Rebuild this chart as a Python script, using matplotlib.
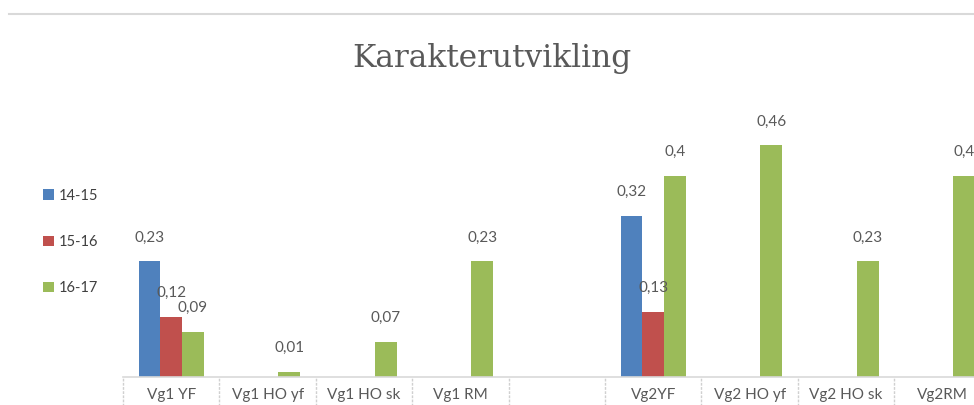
import numpy as np
import matplotlib
matplotlib.use("Agg")
import matplotlib.pyplot as plt
from matplotlib.transforms import blended_transform_factory

categories = ["Vg1 YF", "Vg1 HO yf", "Vg1 HO sk", "Vg1 RM", "",
              "Vg2YF", "Vg2 HO yf", "Vg2 HO sk", "Vg2RM"]
series = ["14-15", "15-16", "16-17"]
v_1415 = [0.23, np.nan, np.nan, np.nan, np.nan, 0.32, np.nan, np.nan, np.nan]
v_1516 = [0.12, np.nan, np.nan, np.nan, np.nan, 0.13, np.nan, np.nan, np.nan]
v_1617 = [0.09, 0.01, 0.07, 0.23, np.nan, 0.4, 0.46, 0.23, 0.4]
colors = ["#4F81BD", "#C0504D", "#9BBB59"]

plt.rcParams["font.family"] = ["Lato", "DejaVu Sans"]
txt = "#595959"

fig = plt.figure(figsize=(9.74, 4.05), dpi=100)
# axes: left edge at first category boundary, runs off the right side
ax = fig.add_axes([123 / 974, 28 / 405, (974 - 123) / 974, 277 / 405])

x = np.arange(len(categories))
w = 0.225
for i, (vals, lab, c) in enumerate(zip([v_1415, v_1516, v_1617], series, colors)):
    pos = x + (i - 1) * w
    bars = ax.bar(pos, vals, width=w, color=c, label=lab, zorder=2)
    for xx, v in zip(pos, vals):
        if np.isnan(v):
            continue
        s = ("%g" % v).replace(".", ",")
        ax.annotate(s, (xx, v), xytext=(0, 17), textcoords="offset points",
                    ha="center", va="center", fontsize=11, color=txt)

ax.set_xlim(-0.5, -0.5 + (974 - 123) / 96.4)
ax.set_ylim(0, 0.55)

for side in ["top", "right", "left"]:
    ax.spines[side].set_visible(False)
ax.spines["bottom"].set_color("#d9d9d9")
ax.spines["bottom"].set_linewidth(1.2)
ax.set_yticks([])
ax.set_xticks(x)
ax.set_xticklabels(categories, fontsize=11, color=txt)
ax.tick_params(axis="x", length=0, pad=8)

# category separators hanging below the axis
trans = blended_transform_factory(ax.transData, ax.transAxes)
ax.vlines(np.arange(len(categories) + 1) - 0.5, -0.12, 0, transform=trans,
          colors="#d0d0d0", linewidth=1, linestyles=(0, (2, 1)), clip_on=False)

# top rule
fig.add_artist(plt.Line2D([9 / 974, 1], [1 - 14 / 405] * 2, color="#d9d9d9", linewidth=1.5))

fig.text(492 / 974, 1 - 59 / 405, "Karakterutvikling", ha="center", va="center",
         fontsize=22.5, color=txt, family="DejaVu Serif")

fig.legend(loc="center left", bbox_to_anchor=(30 / 974, 1 - 242 / 405), frameon=False,
           fontsize=10.5, labelcolor="#404040", handlelength=0.75, handleheight=0.75,
           handletextpad=0.3, labelspacing=2.2)

fig.savefig("out.png", dpi=100)
